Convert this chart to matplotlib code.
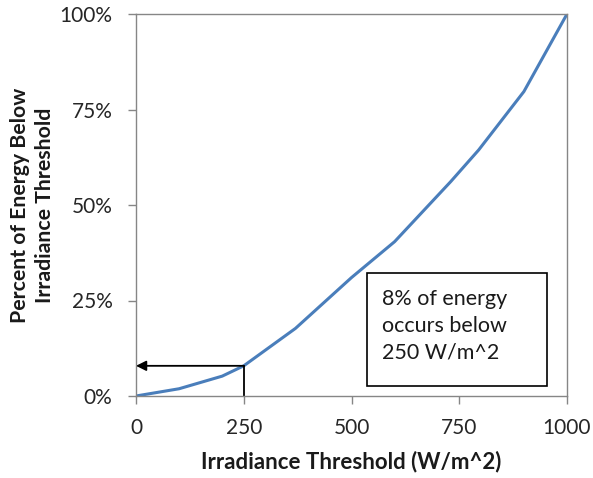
import numpy as np
import matplotlib.pyplot as plt
from matplotlib.patches import Rectangle
from matplotlib.ticker import PercentFormatter

# cumulative energy below irradiance threshold
irradiance = [0, 100, 200, 250, 370, 500, 600, 730, 795, 900, 1000]
pct_energy = [0, 1.9, 5.2, 7.9, 17.7, 31.0, 40.4, 56.1, 64.4, 79.7, 100]

x_ticks = [0, 250, 500, 750, 1000]
y_ticks = [0, 25, 50, 75, 100]

mark_x = 250
mark_y = 7.9
note = "8% of energy\noccurs below\n250 W/m^2"

plt.rcParams['font.family'] = ['Lato', 'DejaVu Sans']
grey = '#868686'

fig = plt.figure(figsize=(5.93, 4.78), dpi=100)
ax = fig.add_axes([136/593, 1 - 396/478, 431/593, 382/478])

ax.plot(irradiance, pct_energy, color='#4A7EBB', lw=2.2, solid_joinstyle='round')

# marker lines at 250 W/m^2
ax.plot([mark_x, mark_x], [0, mark_y], color='black', lw=1.3)
ax.annotate('', xy=(0, mark_y), xytext=(mark_x, mark_y),
            arrowprops=dict(arrowstyle='-|>', color='black', lw=1.3,
                            mutation_scale=15, shrinkA=0, shrinkB=0))

# note box
ax.add_patch(Rectangle((536, 2.6), 418, 29.7, fc='white', ec='black', lw=1.2,
                       zorder=3))
ax.text(571, 18.4, note, fontsize=15.5, linespacing=1.4, va='center',
        ha='left', color='#1a1a1a', zorder=4)

ax.set_xlim(0, 1000)
ax.set_ylim(0, 100)
ax.set_xticks(x_ticks)
ax.set_yticks(y_ticks)
ax.yaxis.set_major_formatter(PercentFormatter(decimals=0))
ax.tick_params(colors=grey, labelcolor='#262626', labelsize=15, length=6,
               width=1, direction='out')
ax.tick_params(axis='y', pad=11)
ax.tick_params(axis='x', pad=10)
for s in ax.spines.values():
    s.set_color(grey)
    s.set_linewidth(1)

ax.set_xlabel('Irradiance Threshold (W/m^2)', fontsize=16, fontweight='bold',
              labelpad=9, color='#1a1a1a')
ax.set_ylabel('Percent of Energy Below\nIrradiance Threshold', fontsize=15.3,
              fontweight='bold', labelpad=3, linespacing=1.3, color='#1a1a1a')

fig.savefig('out.png', dpi=100)
